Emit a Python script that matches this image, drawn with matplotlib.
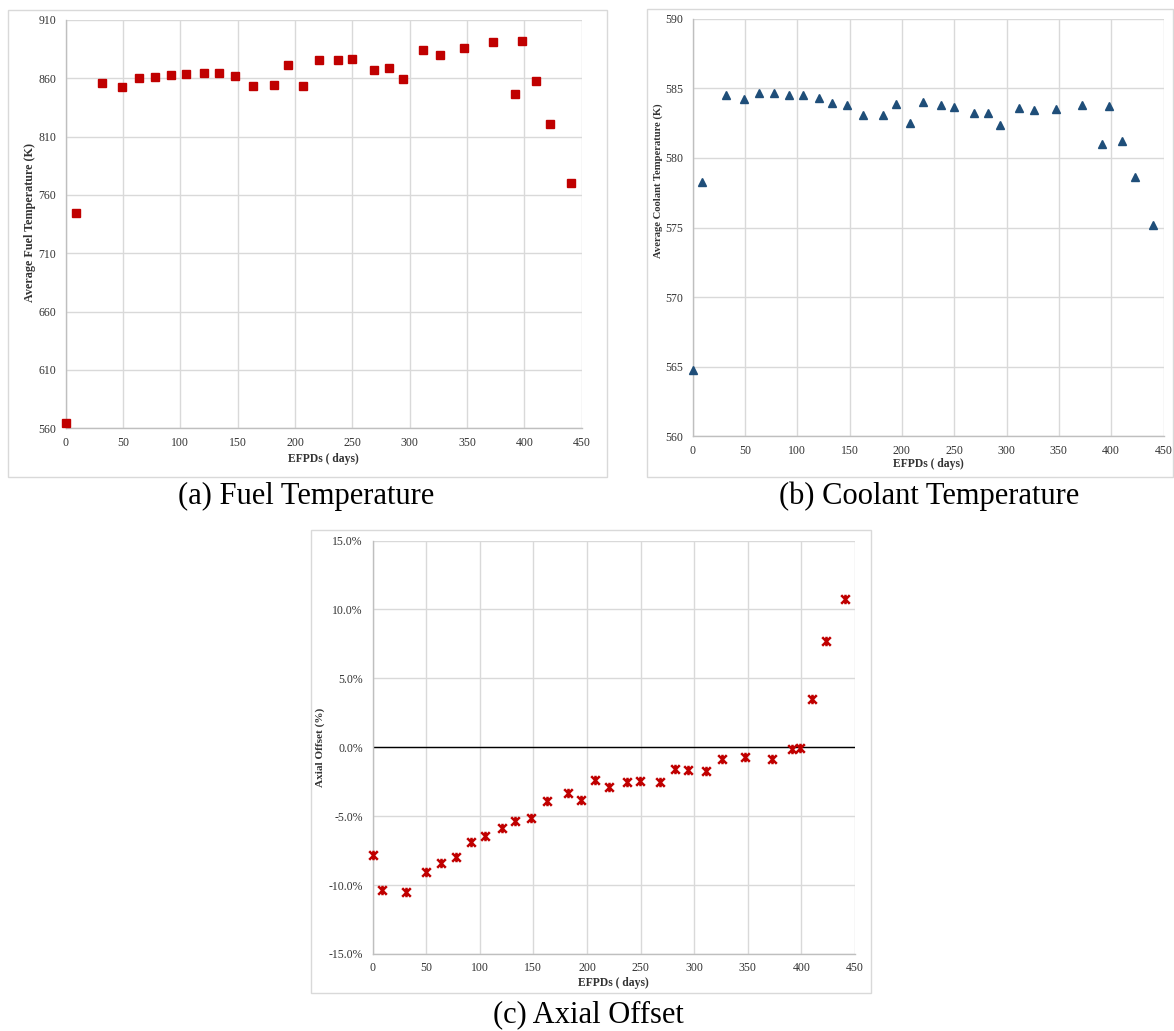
import matplotlib
matplotlib.use("Agg")
import matplotlib.pyplot as plt
from matplotlib.patches import Rectangle
from matplotlib.path import Path
from matplotlib.ticker import FuncFormatter

plt.rcParams['font.family'] = ['Liberation Serif', 'DejaVu Serif']

# ---------------- data ----------------
efpd = [0, 8.7, 31.5, 49.5, 63.7, 77.5, 92, 105.3, 121, 133.3, 148, 163,
        182, 194, 207.3, 220.5, 237.5, 249.5, 268.5, 282, 294.2, 311.5,
        326, 347, 372.5, 391.5, 398.3, 410, 422.5, 440.3]

fuel_temp = [564.4, 744.7, 856.3, 852.8, 860.5, 861.1, 862.8, 864.0, 864.8,
             864.8, 861.7, 853.7, 854.0, 871.7, 853.1, 875.7, 876.0, 876.6,
             867.4, 869.1, 859.7, 884.0, 879.7, 886.3, 891.1, 846.3, 892.3,
             858.0, 820.5, 770.2]

coolant_temp = [564.79, 578.28, 584.52, 584.26, 584.69, 584.69, 584.52,
                584.50, 584.28, 583.92, 583.78, 583.11, 583.09, 583.88,
                582.54, 584.02, 583.78, 583.69, 583.21, 583.26, 582.35,
                583.61, 583.44, 583.54, 583.78, 581.00, 583.73, 581.25,
                578.62, 575.17]

axial_offset = [-7.83, -10.39, -10.53, -9.08, -8.38, -7.99, -6.84, -6.43,
                -5.89, -5.36, -5.12, -3.91, -3.33, -3.86, -2.39, -2.87,
                -2.54, -2.46, -2.54, -1.59, -1.62, -1.74, -0.87, -0.70,
                -0.85, -0.10, -0.07, 3.53, 7.73, 10.75]

x_ticks = [0, 50, 100, 150, 200, 250, 300, 350, 400, 450]
fuel_ticks = [560, 610, 660, 710, 760, 810, 860, 910]
coolant_ticks = [560, 565, 570, 575, 580, 585, 590]
ao_ticks = [-15, -10, -5, 0, 5, 10, 15]

captions = ["(a) Fuel Temperature", "(b) Coolant Temperature", "(c) Axial Offset"]
ylabels = ["Average Fuel Temperature (K)", "Average Coolant Temperature (K)",
           "Axial Offset (%)"]
xlabel = "EFPDs ( days)"

# ---------------- layout ----------------
W, H = 1174, 1031
fig = plt.figure(figsize=(W / 100, H / 100), dpi=100)

def fx(x):
    return x / W

def fy(y):
    return 1 - y / H

def add_box(l, t, r, b):
    fig.patches.append(Rectangle((fx(l), fy(b)), fx(r - l), (b - t) / H,
                                 transform=fig.transFigure, fill=False,
                                 edgecolor='#d9d9d9', linewidth=1.0))

def add_axes(l, t, r, b):
    return fig.add_axes([fx(l), fy(b), fx(r - l), (b - t) / H])

GRID = '#d9d9d9'
SPINE = '#bfbfbf'
TICKFS = 8.5
LABFS = 8.4
TXT = '#333333'

def style(ax, yticks, ylim):
    ax.set_xlim(0, 450)
    ax.set_ylim(*ylim)
    ax.set_xticks(x_ticks)
    ax.set_yticks(yticks)
    ax.grid(True, color=GRID, linewidth=1.0)
    ax.set_axisbelow(True)
    for s in ['top', 'right']:
        ax.spines[s].set_visible(False)
    for s in ['left', 'bottom']:
        ax.spines[s].set_color(SPINE)
        ax.spines[s].set_linewidth(1.0)
    ax.tick_params(length=0, labelsize=TICKFS, colors=TXT)
    ax.tick_params(axis='x', pad=6)
    ax.tick_params(axis='y', pad=7)

# boxes
add_box(8.3, 10, 606.7, 476.7)
add_box(646.7, 9.3, 1173.3, 476.7)
add_box(311, 530, 871, 993)

# (a) fuel temperature
ax1 = add_axes(65.7, 20, 581.7, 428.3)
style(ax1, fuel_ticks, (560, 910))
ax1.plot(efpd, fuel_temp, linestyle='none', marker='s', markersize=5.8,
         color='#c00000', clip_on=False, zorder=3)

# (b) coolant temperature
ax2 = add_axes(692.6, 18.7, 1163.5, 436.3)
style(ax2, coolant_ticks, (560, 590))
ax2.plot(efpd, coolant_temp, linestyle='none', marker='^', markersize=6.0,
         color='#1f4e79', clip_on=False, zorder=3)

# (c) axial offset
star = Path([(-1, -1), (1, 1), (-1, 1), (1, -1), (0, -1.1), (0, 1.1)],
            [Path.MOVETO, Path.LINETO, Path.MOVETO, Path.LINETO,
             Path.MOVETO, Path.LINETO])
ax3 = add_axes(372.5, 540.5, 855, 954)
style(ax3, ao_ticks, (-15, 15))
ax3.yaxis.set_major_formatter(FuncFormatter(lambda v, p: "{:.1f}%".format(v)))
ax3.axhline(0, color='black', linewidth=1.0, zorder=2)
ax3.plot(efpd, axial_offset, linestyle='none', marker=star, markersize=6.8,
         markeredgewidth=1.8, color='#c00000', clip_on=False, zorder=3)

# axis labels
fig.text(fx(323.7), fy(459), xlabel, ha='center', va='center',
         fontsize=LABFS, fontweight='bold', color=TXT)
fig.text(fx(928), fy(464), xlabel, ha='center', va='center',
         fontsize=LABFS, fontweight='bold', color=TXT)
fig.text(fx(613.7), fy(983), xlabel, ha='center', va='center',
         fontsize=LABFS, fontweight='bold', color=TXT)

fig.text(fx(30.5), fy(223), ylabels[0], rotation=90, ha='center', va='center',
         fontsize=8.7, fontweight='bold', color=TXT)
fig.text(fx(658.6), fy(181), ylabels[1], rotation=90, ha='center', va='center',
         fontsize=7.7, fontweight='bold', color=TXT)
fig.text(fx(320), fy(747), ylabels[2], rotation=90, ha='center', va='center',
         fontsize=8.1, fontweight='bold', color=TXT)

# captions
fig.text(fx(306), fy(496), captions[0], ha='center', va='center', fontsize=22)
fig.text(fx(929), fy(496), captions[1], ha='center', va='center', fontsize=22)
fig.text(fx(588), fy(1015), captions[2], ha='center', va='center', fontsize=22)

fig.savefig("out.png", dpi=100, facecolor='white')
